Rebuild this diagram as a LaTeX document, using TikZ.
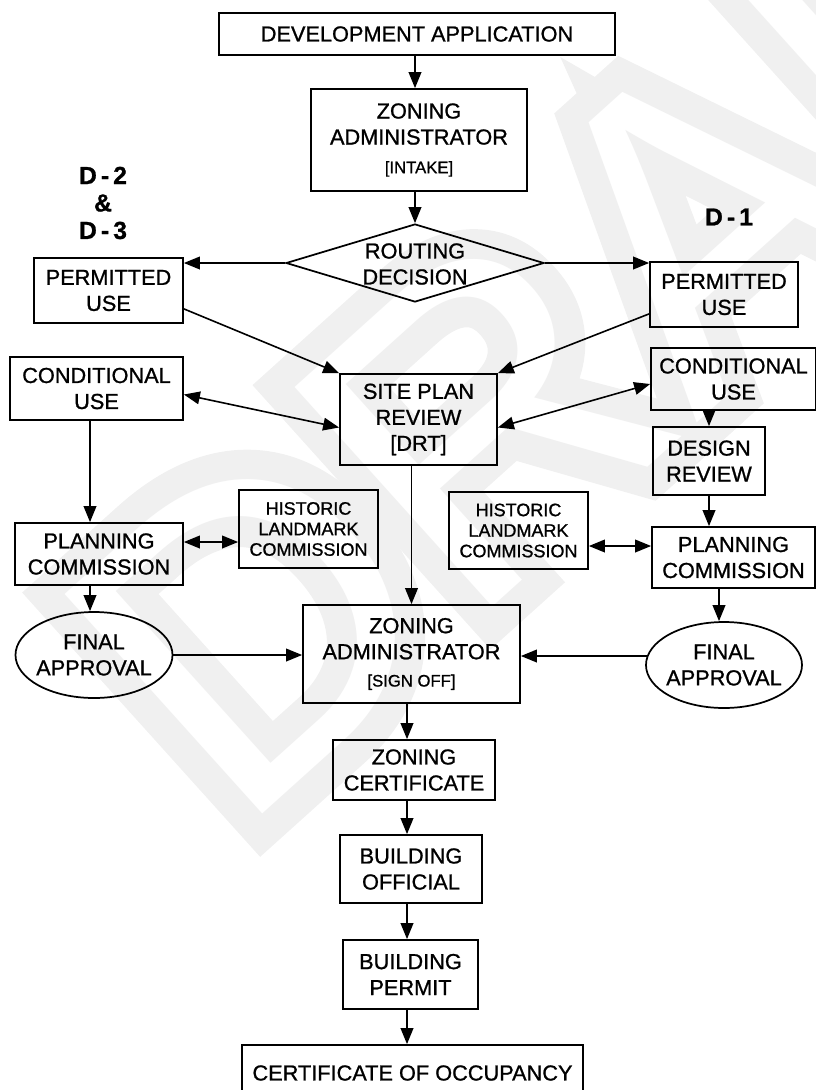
\documentclass[tikz,border=0pt]{standalone}
\usepackage{fontspec}
\setmainfont[FakeBold=1]{Liberation Sans}
\newfontfamily\wmfat[FakeBold=14]{Liberation Sans}
\newfontfamily\wmthin{Liberation Sans}
\usetikzlibrary{arrows.meta,shapes.geometric,calc}
\definecolor{wm}{gray}{0.94}
\newcommand\mainf{\fontsize{16.3}{19.5}\selectfont}
\newcommand\smallf{\fontsize{12.5}{14}\selectfont}
\newcommand\histf{\fontsize{13.5}{15.4}\selectfont}
\newcommand\labf{\fontsize{18.5}{20.6}\selectfont\bfseries}
\newcommand\wmsize{\fontsize{322}{322}\selectfont}
\begin{document}
\begin{tikzpicture}[x=0.75pt,y=-0.75pt,
  sz/.style 2 args={minimum width=#1*0.75pt, minimum height=#2*0.75pt},
  box/.style={draw, line width=1.3pt, inner sep=0pt, align=center, font=\mainf},
  hbox/.style={box, font=\histf},
  oval/.style={draw, ellipse, line width=1.3pt, inner xsep=-4pt, inner ysep=0pt, align=center, font=\mainf},
  conn/.style={line width=1.2pt},
  arr/.style={conn, -{Triangle[length=12pt,width=9.5pt]}},
  darr/.style={conn, {Triangle[length=12pt,width=9.5pt]}-{Triangle[length=12pt,width=9.5pt]}},
  wmtext/.style={rotate=42, anchor=base west, inner sep=0pt},
]
\clip (0,0) rectangle (816,1090);
% watermark (outlined letters)
\node[wmtext, text=wm, font=\wmfat\wmsize] (wmark) at (236,838) {DRAFT};
\node[wmtext, text=white, font=\wmthin\wmsize] (wmcut) at (236,838) {DRAFT};

% nodes
\node[box, sz={396}{42}] (dev) at (417,34) {DEVELOPMENT APPLICATION};
\node[box, sz={216}{102}] (zai) at (419,140) {ZONING\\ADMINISTRATOR\\[2pt]{\smallf [INTAKE]}};
\node[draw, diamond, line width=1.3pt, inner sep=0pt, sz={258}{78}] (route) at (415,263) {};
\node[font=\mainf, align=center, inner sep=0pt] (routetxt) at (415,264) {ROUTING\\DECISION};
\node[box, sz={149}{65}] (pl) at (108.5,290.5) {PERMITTED\\USE};
\node[box, sz={148}{65}] (pr) at (724,294.5) {PERMITTED\\USE};
\node[font=\labf, align=center, inner sep=0pt] (d23) at (103,203) {D\,-\,2\\\&\\D\,-\,3};
\node[font=\labf, inner sep=0pt] (d1) at (729,217) {D\,-\,1};
\node[box, sz={157}{91}] (spr) at (418.5,419.5) {SITE PLAN\\REVIEW\\{}[DRT]};
\node[box, sz={173}{63}] (cl) at (96.5,388.5) {CONDITIONAL\\USE};
\node[box, sz={165}{62}] (cr) at (733.5,379) {CONDITIONAL\\USE};
\node[box, sz={112}{68}] (dr) at (709,461) {DESIGN\\REVIEW};
\node[box, sz={168}{62}] (plc) at (99,554) {PLANNING\\COMMISSION};
\node[hbox, sz={139}{78}] (hl) at (308.5,529) {HISTORIC\\LANDMARK\\COMMISSION};
\node[hbox, sz={139}{77}] (hr) at (518.5,530.5) {HISTORIC\\LANDMARK\\COMMISSION};
\node[box, sz={163}{61}] (prc) at (733.5,557.5) {PLANNING\\COMMISSION};
\node[oval, sz={157}{86}] (fal) at (94,655) {FINAL\\APPROVAL};
\node[oval, sz={156}{86}] (far) at (724,665) {FINAL\\APPROVAL};
\node[box, sz={217}{98}] (zas) at (411.5,654) {ZONING\\ADMINISTRATOR\\[1pt]{\smallf [SIGN OFF]}};
\node[box, sz={162}{60}] (zc) at (414,770) {ZONING\\CERTIFICATE};
\node[box, sz={142}{68}] (bo) at (411,869) {BUILDING\\OFFICIAL};
\node[box, sz={135}{69}] (bp) at (410.5,974.5) {BUILDING\\PERMIT};
\node[box, sz={341}{56}] (co) at (412.5,1073) {CERTIFICATE OF OCCUPANCY};

% helper coordinates
\coordinate (tx) at (415,0);
\coordinate (lx) at (90,0);
\coordinate (cx) at (407,0);
\coordinate (rx) at (719,0);
\coordinate (ly) at (0,542);
\coordinate (ry) at (0,546);
\coordinate (fa) at ($(far.west)+(2,-9)$);

% connectors
\draw[arr] (dev.south -| tx) -- (zai.north -| tx);
\draw[arr] (zai.south -| tx) -- (route.north -| tx);
\draw[arr] (route.west) -- (route.west -| pl.east);
\draw[arr] (route.east) -- (route.east -| pr.west);
\draw[arr] ($(pl.south east)+(0,-15)$) -- (spr.north west);
\draw[arr] ($(pr.south west)+(0,-14)$) -- (spr.north east);
\draw[darr] ($(cl.east)+(0,6)$) -- ($(spr.west)+(0,8)$);
\draw[darr] ($(cr.west)+(0,5)$) -- ($(spr.east)+(0,8)$);
\draw[arr] (cr.south -| dr.north) -- (dr.north);
\draw[arr] (dr.south) -- (dr.south |- prc.north);
\draw[arr] (cl.south -| lx) -- (plc.north -| lx);
\draw[darr] (plc.east |- ly) -- (hl.west |- ly);
\draw[darr] (hr.east |- ry) -- (prc.west |- ry);
\draw[arr] (plc.south -| lx) -- (fal.north -| lx);
\draw[arr] (spr.south -| zas.north) -- (zas.north);
\draw[arr] (fal.east) -- (fal.east -| zas.west);
\draw[arr] (fa) -- (fa -| zas.east);
\draw[arr] (prc.south -| rx) -- (far.north -| rx);
\draw[arr] (zas.south -| cx) -- (zc.north -| cx);
\draw[arr] (zc.south -| cx) -- (bo.north -| cx);
\draw[arr] (bo.south -| cx) -- (bp.north -| cx);
\draw[arr] (bp.south -| cx) -- (co.north -| cx);
\end{tikzpicture}
\end{document}
